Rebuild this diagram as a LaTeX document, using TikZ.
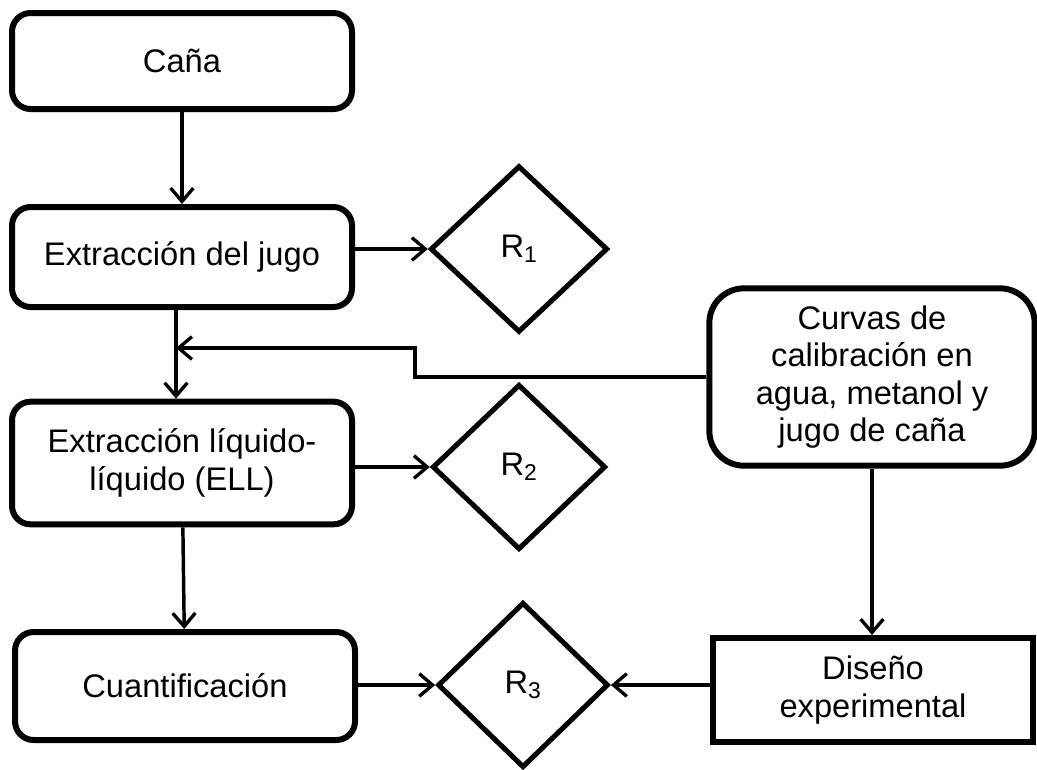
\documentclass[tikz,border=0pt]{standalone}
\usepackage{fontspec}
\setmainfont{Liberation Sans}
\usetikzlibrary{shapes.geometric,arrows.meta}

\tikzset{
    box/.style={draw, line width=4.5pt, align=center, inner sep=2pt,
        font=\fontsize{24.5}{28}\selectfont},
    stepbox/.style={box, rounded corners=14pt},
    source/.style={box, rounded corners=26pt},
    result/.style={draw, diamond, line width=3.8pt, inner sep=0pt,
        font=\fontsize{24.5}{28}\selectfont},
    link/.style={-{Straight Barb[length=10pt, width=17pt, line width=2.5pt]},
        line width=2.6pt}
}

\begin{document}
\begin{tikzpicture}[x=0.75pt, y=-0.75pt]
    \useasboundingbox (0,0) rectangle (1037,769);
    \node[stepbox, minimum width=255pt, minimum height=72pt] (cana) at (182,61)
        {Caña};
    \node[stepbox, minimum width=255pt, minimum height=75pt] (jugo) at (182,257)
        {Extracción del jugo};
    \node[result, minimum width=133pt, minimum height=125pt] (r1) at (519,249)
        {R\textsubscript{1}};
    \node[stepbox, minimum width=255pt, minimum height=92pt] (ell) at (182,463)
        {Extracción líquido-\\líquido (ELL)};
    \node[result, minimum width=130pt, minimum height=124pt] (r2) at (519,467)
        {R\textsubscript{2}};
    \node[source, minimum width=244pt, minimum height=133pt] (curvas) at (872,377)
        {Curvas de\\calibración en\\agua, metanol y\\jugo de caña};
    \node[stepbox, minimum width=255pt, minimum height=81pt] (cuant) at (185,686)
        {Cuantificación};
    \node[result, minimum width=128pt, minimum height=124pt] (r3) at (523,685)
        {R\textsubscript{3}};
    \node[box, minimum width=240pt, minimum height=78pt] (diseno) at (873,690)
        {Diseño\\experimental};
    \coordinate (merge) at (176,348);

    \draw[link] (cana) -- (jugo);
    \draw[link] (jugo.east |- r1) -- (r1.west);
    \draw[link] (jugo.south -| merge) -- (ell.north -| merge);
    \draw[link] (ell.east |- r2) -- (r2.west);
    \draw[link] (curvas.west) -- (415,377) -- (415,348) -- (merge);
    \draw[link] (ell) -- (cuant);
    \draw[link] (cuant.east |- r3) -- (r3.west);
    \draw[link] (curvas) -- (curvas |- diseno.north);
    \draw[link] (diseno.west |- r3) -- (r3.east);
\end{tikzpicture}
\end{document}
